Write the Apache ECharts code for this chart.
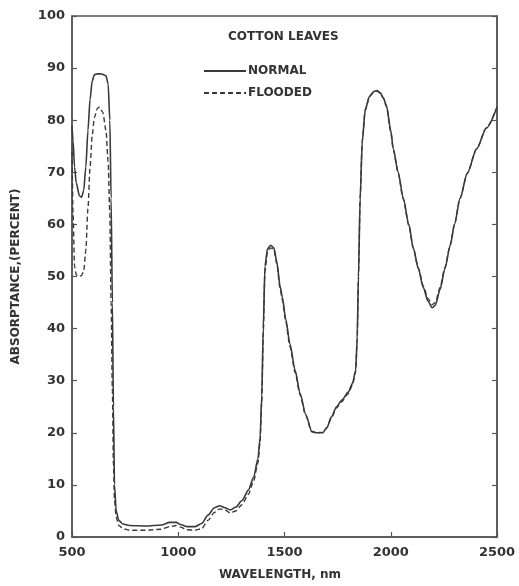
<!DOCTYPE html>
<html>
<head>
<meta charset="utf-8">
<script src="https://cdn.jsdelivr.net/npm/echarts@6/dist/echarts.min.js"></script>
<style>
html,body{margin:0;padding:0;background:#fff;}
#chart{width:519px;height:586px;}
</style>
</head>
<body>
<div id="chart"></div>
<script>
// Wavelength (nm)
var wavelengths = [500,505,512,520,535,545,555,565,575,585,595,605,620,630,645,660,670,678,684,690,695,700,708,720,740,770,850,920,960,990,1010,1040,1080,1110,1140,1170,1195,1220,1245,1270,1300,1330,1355,1375,1385,1393,1400,1408,1420,1435,1450,1463,1480,1490,1505,1526,1550,1573,1600,1628,1650,1680,1700,1720,1745,1770,1800,1820,1835,1842,1848,1856,1866,1880,1900,1920,1935,1950,1965,1980,2000,2012,2035,2059,2085,2106,2130,2153,2175,2195,2210,2232,2255,2280,2300,2326,2360,2404,2450,2500];
// Absorptance (%) - normal leaves
var normalValues = [79,76,71,68,65.5,65.2,66.5,71,78,84,87.5,88.7,88.9,88.9,88.8,88.5,87,80,65,45,25,10,5,3.2,2.5,2.2,2.1,2.3,2.8,2.8,2.4,2.0,2.0,2.6,4.2,5.6,6.0,5.6,5.2,5.7,7.0,9.0,11.5,15,19,27,40,52,55.3,56,55.5,53,48,46,42,37,32,27.6,23.5,20.3,20,20,21,23,25,26.3,27.8,29.5,32,38,50,65,76,82,84.6,85.5,85.7,85.3,84.3,82.8,78,74.5,70,65,60,55.5,51.5,47.9,45.3,44,44.5,47.5,51.5,56,60,65,69.8,74.5,78.5,82.5];
// Absorptance (%) - flooded leaves
var floodedValues = [74,62,52,50.3,50,50.2,51,55,63,71,77,80.5,82.3,82.5,81.5,78,72,62,45,28,14,7,3.8,2.2,1.6,1.3,1.3,1.5,2.0,2.2,1.9,1.4,1.3,1.6,3.2,4.7,5.4,5.2,4.6,5.0,6.2,8.2,10.8,14.2,18.2,26,39,51,54.8,55.5,55.2,52.5,47.5,45.5,41.5,36.5,31.6,27.3,23.3,20.2,20,20.1,21,22.8,24.8,26,27.5,29.2,31.8,38,50,65,76,82,84.5,85.4,85.6,85.2,84.2,82.6,77.8,74.3,69.8,64.8,59.8,55.4,51.6,48.2,45.8,44.6,45,47.9,51.8,56.1,60,65,69.8,74.5,78.5,82.5];
var yTicks = [0,10,20,30,40,50,60,70,80,90,100];
var xTicks = [500,1000,1500,2000,2500];
var seriesNames = ['NORMAL','FLOODED'];
var legendTitle = 'COTTON LEAVES';
var xName = 'WAVELENGTH, nm';
var yName = 'ABSORPTANCE,(PERCENT)';

function pairs(xs, ys){ var out=[]; for (var i=0;i<xs.length;i++) out.push([xs[i], ys[i]]); return out; }

var FONT = 'DejaVu Sans';
var INK = '#3a3a3a';
var chart = echarts.init(document.getElementById('chart'), null, {renderer:'canvas'});
chart.setOption({
  animation:false,
  backgroundColor:'#fff',
  grid:{left:72,right:22,top:16,bottom:44,show:true,borderColor:'#555',borderWidth:1.5,backgroundColor:'transparent'},
  graphic:[{type:'text',left:228,top:31,style:{text:legendTitle,font:'bold 12px "DejaVu Sans"',fill:'#333'}}],
  legend:{
    orient:'vertical',left:198,top:60,itemWidth:42,itemHeight:14,itemGap:10,
    data:seriesNames,
    itemStyle:{opacity:0},
    lineStyle:{inactiveWidth:0},
    textStyle:{fontFamily:FONT,fontWeight:'bold',fontSize:12,color:'#333',padding:[0,0,4,-3]}
  },
  xAxis:{
    type:'value',min:xTicks[0],max:xTicks[xTicks.length-1],interval:500,
    name:xName,nameLocation:'middle',nameGap:32,
    nameTextStyle:{fontFamily:FONT,fontWeight:'bold',fontSize:12,color:'#333',padding:[0,9,0,0]},
    axisLine:{show:true,lineStyle:{color:'#555',width:1.5}},
    axisTick:{show:true,inside:true,length:5,lineStyle:{color:'#555',width:1.2}},
    axisLabel:{margin:9,fontFamily:FONT,fontWeight:'bold',fontSize:13,color:'#333',formatter:function(v){return String(v);}},
    splitLine:{show:false}
  },
  yAxis:[{
    type:'value',min:0,max:100,interval:10,position:'left',
    name:yName,nameLocation:'middle',nameGap:50,
    nameTextStyle:{fontFamily:FONT,fontWeight:'bold',fontSize:12,color:'#333'},
    axisLine:{show:true,lineStyle:{color:'#555',width:1.5}},
    axisTick:{show:true,inside:true,length:5,lineStyle:{color:'#555',width:1.2}},
    axisLabel:{margin:7,fontFamily:FONT,fontWeight:'bold',fontSize:13,color:'#333'},
    splitLine:{show:false}
  },{
    type:'value',min:0,max:100,interval:10,position:'right',
    axisLine:{show:true,lineStyle:{color:'#555',width:1.5}},
    axisTick:{show:true,inside:true,length:5,lineStyle:{color:'#555',width:1.2}},
    axisLabel:{show:false},
    splitLine:{show:false}
  }],
  series:[{
    name:seriesNames[0],type:'line',data:pairs(wavelengths,normalValues),
    symbol:'none',smooth:0.25,smoothMonotone:'x',
    lineStyle:{color:INK,width:1.6,type:'solid'},itemStyle:{color:INK}
  },{
    name:seriesNames[1],type:'line',data:pairs(wavelengths,floodedValues),
    symbol:'none',smooth:0.25,smoothMonotone:'x',
    lineStyle:{color:INK,width:1.4,type:[5,3]},itemStyle:{color:INK}
  }]
});
</script>
</body>
</html>
